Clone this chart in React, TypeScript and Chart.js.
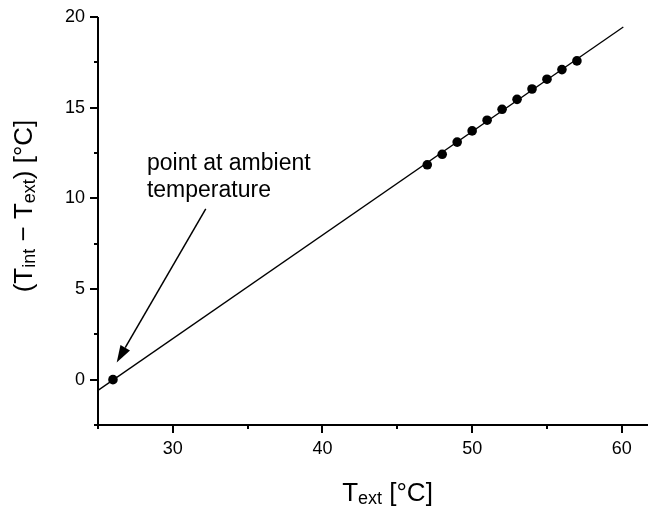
import React, { useEffect, useRef } from "react";
import { Chart, registerables } from "chart.js";

Chart.register(...registerables);

// ---- data ----
const ambientX = [26];
const ambientY = [0];
const measuredX = [47, 48, 49, 50, 51, 52, 53, 54, 55, 56, 57];
const measuredY = [11.85, 12.43, 13.1, 13.72, 14.31, 14.91, 15.46, 16.03, 16.57, 17.1, 17.58];
const fitX = [25, 60.1];
const fitY = [-0.59, 19.45];

const xMin = 25;
const xMax = 61.75;
const yMin = -2.5;
const yMax = 20;
const xStep = 5;
const yStep = 2.5;
const xLabelEvery = 10;
const yLabelEvery = 5;

const annotationLines = ["point at ambient", "temperature"];
const arrowTip = { x: 26.25, y: 0.95 };
const arrowTail = { x: 32.2, y: 9.42 };
const annotationAnchor = { x: 28.27, y: 11.57 };

const FONT = "'Liberation Sans', Arial, Helvetica, sans-serif";

type Seg = { t: string; sub?: boolean };
const xTitle: Seg[] = [{ t: "T" }, { t: "ext", sub: true }, { t: " [°C]" }];
const yTitle: Seg[] = [
  { t: "(T" },
  { t: "int", sub: true },
  { t: " − T" },
  { t: "ext", sub: true },
  { t: ") [°C]" },
];

const MAIN_SIZE = 26;
const SUB_SIZE = 18;

function segWidth(ctx: CanvasRenderingContext2D, segs: Seg[]) {
  let w = 0;
  for (const s of segs) {
    ctx.font = `${s.sub ? SUB_SIZE : MAIN_SIZE}px ${FONT}`;
    w += ctx.measureText(s.t).width;
  }
  return w;
}

function drawSegs(ctx: CanvasRenderingContext2D, segs: Seg[], x0: number) {
  let x = x0;
  for (const s of segs) {
    ctx.font = `${s.sub ? SUB_SIZE : MAIN_SIZE}px ${FONT}`;
    ctx.fillText(s.t, x, s.sub ? 3 : 0);
    x += ctx.measureText(s.t).width;
  }
}

const decorPlugin = {
  id: "decor",
  afterDraw(chart: any) {
    const ctx: CanvasRenderingContext2D = chart.ctx;
    const xs = chart.scales.x;
    const ys = chart.scales.y;
    const area = chart.chartArea;
    ctx.save();
    ctx.strokeStyle = "#000";
    ctx.fillStyle = "#000";
    ctx.lineWidth = 2;
    ctx.lineCap = "butt";

    // axis lines
    ctx.beginPath();
    ctx.moveTo(area.left, area.top);
    ctx.lineTo(area.left, area.bottom);
    ctx.moveTo(area.left, area.bottom);
    ctx.lineTo(area.right, area.bottom);
    ctx.stroke();

    // x tick marks
    ctx.beginPath();
    for (let v = xMin; v <= xMax + 1e-9; v += xStep) {
      const px = Math.round(xs.getPixelForValue(v));
      const major = Math.abs(v % xLabelEvery) < 1e-9;
      ctx.moveTo(px, area.bottom);
      ctx.lineTo(px, area.bottom + (major ? 8 : 4));
    }
    // y tick marks
    for (let v = yMin; v <= yMax + 1e-9; v += yStep) {
      const py = Math.round(ys.getPixelForValue(v));
      const major = Math.abs(v % yLabelEvery) < 1e-9;
      ctx.moveTo(area.left, py);
      ctx.lineTo(area.left - (major ? 8 : 4), py);
    }
    ctx.stroke();

    // x title
    ctx.textBaseline = "alphabetic";
    ctx.textAlign = "left";
    const xw = segWidth(ctx, xTitle);
    ctx.save();
    ctx.translate(387.5 - xw / 2, 501);
    drawSegs(ctx, xTitle, 0);
    ctx.restore();

    // y title
    const yw = segWidth(ctx, yTitle);
    ctx.save();
    ctx.translate(32, 206);
    ctx.rotate(-Math.PI / 2);
    drawSegs(ctx, yTitle, -yw / 2);
    ctx.restore();

    // annotation text
    ctx.font = `23px ${FONT}`;
    const ax = xs.getPixelForValue(annotationAnchor.x);
    const ay = ys.getPixelForValue(annotationAnchor.y);
    annotationLines.forEach((line, i) => {
      ctx.fillText(line, ax, ay + i * 27);
    });

    // arrow
    const tx = xs.getPixelForValue(arrowTip.x);
    const ty = ys.getPixelForValue(arrowTip.y);
    const sx = xs.getPixelForValue(arrowTail.x);
    const sy = ys.getPixelForValue(arrowTail.y);
    const ang = Math.atan2(ty - sy, tx - sx);
    const headLen = 17;
    const headHalf = 5.5;
    const bx = tx - headLen * Math.cos(ang);
    const by = ty - headLen * Math.sin(ang);
    ctx.lineWidth = 1.5;
    ctx.beginPath();
    ctx.moveTo(sx, sy);
    ctx.lineTo(bx, by);
    ctx.stroke();
    ctx.beginPath();
    ctx.moveTo(tx, ty);
    ctx.lineTo(bx + headHalf * Math.sin(ang), by - headHalf * Math.cos(ang));
    ctx.lineTo(bx - headHalf * Math.sin(ang), by + headHalf * Math.cos(ang));
    ctx.closePath();
    ctx.fill();

    ctx.restore();
  },
};

export default function App() {
  const ref = useRef<HTMLCanvasElement | null>(null);

  useEffect(() => {
    if (!ref.current) return;
    const chart = new Chart(ref.current, {
      type: "scatter",
      data: {
        datasets: [
          {
            type: "line",
            data: fitX.map((x, i) => ({ x, y: fitY[i] })),
            borderColor: "#000",
            borderWidth: 1.3,
            pointRadius: 0,
            fill: false,
            tension: 0,
          } as any,
          {
            data: measuredX.map((x, i) => ({ x, y: measuredY[i] })),
            backgroundColor: "#000",
            borderColor: "#000",
            pointRadius: 4.8,
            borderWidth: 0,
          },
          {
            data: ambientX.map((x, i) => ({ x, y: ambientY[i] })),
            backgroundColor: "#000",
            borderColor: "#000",
            pointRadius: 4.8,
            borderWidth: 0,
          },
        ],
      },
      options: {
        responsive: false,
        animation: false,
        devicePixelRatio: 1,
        layout: { autoPadding: false, padding: { top: 17, right: 0, left: 0, bottom: 0 } },
        plugins: {
          legend: { display: false },
          tooltip: { enabled: false },
          title: { display: false },
        },
        scales: {
          x: {
            type: "linear",
            min: xMin,
            max: xMax,
            grid: { display: false },
            border: { display: false },
            afterFit: (s: any) => {
              s.height = 81;
              s.paddingLeft = 0;
              s.paddingRight = 0;
            },
            ticks: {
              stepSize: xStep,
              includeBounds: false,
              autoSkip: false,
              maxRotation: 0,
              padding: 5,
              color: "#000",
              font: { family: FONT, size: 18 },
              callback: (v: any) => (Math.abs(Number(v) % xLabelEvery) < 1e-9 ? String(v) : ""),
            },
          },
          y: {
            type: "linear",
            min: yMin,
            max: yMax,
            grid: { display: false },
            border: { display: false },
            afterFit: (s: any) => {
              s.width = 98;
              s.paddingTop = 0;
              s.paddingBottom = 0;
            },
            ticks: {
              stepSize: yStep,
              includeBounds: false,
              autoSkip: false,
              padding: 5,
              color: "#000",
              font: { family: FONT, size: 18 },
              callback: (v: any) => (Math.abs(Number(v) % yLabelEvery) < 1e-9 ? String(v) : ""),
            },
          },
        },
      },
      plugins: [decorPlugin],
    } as any);
    return () => chart.destroy();
  }, []);

  return (
    <div style={{ position: "fixed", left: 0, top: 0, width: 648, height: 506, background: "#fff" }}>
      <canvas ref={ref} width={648} height={506} style={{ width: 648, height: 506, display: "block" }} />
    </div>
  );
}
